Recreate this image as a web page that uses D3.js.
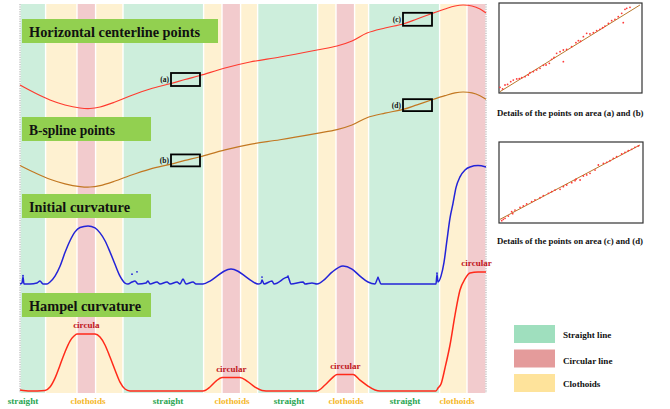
<!DOCTYPE html>
<html><head><meta charset="utf-8">
<script src="https://cdn.jsdelivr.net/npm/d3@7"></script>
<style>
body{margin:0;background:#fff}
svg{display:block}
text{font-family:"Liberation Serif","Times New Roman",serif;font-weight:bold}
</style>
</head><body>
<svg id="chart" width="670" height="409"></svg>
<script>
// ---- Road alignment segments (chainage, m) ----
const segmentBreaks = [0,128,285,378,515,918,1010,1103,1188,1488,1580,1673,1743,2098,2235,2330];
const segmentTypes = ["straight","clothoid","circular","clothoid","straight","clothoid","circular","clothoid",
                      "straight","clothoid","circular","clothoid","straight","clothoid","circular"];
const segmentLabels = ["straight","clothoids","straight","clothoids","straight","clothoids","straight","clothoids"];
const segmentLabelStations = [15,340,740,1060,1345,1630,1925,2185];
const circularLabels = ["circula","circular","circular","circular"];

// ---- Horizontal centerline (chainage, northing m) ----
const centerStation  = [0,75,150,225,300,350,400,475,550,650,755,825,900,1025,1150,1300,1485,1585,1660,1735,1825,1915,1985,2060,2125,2175,2215,2260,2300,2330];
const centerNorthing = [125,85,50,25,10,7.5,15,40,70,105,132.5,152.5,172.5,210,240,265,300,320,345,385,410,430,455,482.5,505,520,525,520,505,485];

// ---- Initial curvature (1e-3 / m) ----
const initStation = [0,10,15,20,50,85,100,115,135,150,175,200,225,250,275,300,340,375,400,425,450,475,500,525,540,
  560,575,590,630,640,650,685,700,735,750,785,800,815,830,865,880,915,950,985,1020,1055,1090,1125,1160,1190,
  1205,1210,1220,1260,1270,1340,1355,1415,1425,1460,1485,1525,1560,1615,1660,1700,1740,1775,1790,1805,2080,
  2085,2090,2105,2120,2135,2150,2165,2180,2200,2225,2250,2290,2330];
const initCurv = [0,0.05,0.35,0,0,0.05,0.15,0,0,0.1,0.4,0.9,1.6,2.2,2.65,2.87,2.95,2.85,2.6,2.2,1.63,1.0,0.4,0.05,0,
  0.1,0.15,0,0.05,0.15,0,0.1,0,0.1,0,0.1,0,0.25,0,0.1,0,0,0.15,0.4,0.65,0.76,0.65,0.4,0.15,0,
  0.05,0.2,0,0.15,0,0.35,0,0.1,0,0.05,0,0.25,0.6,0.92,0.76,0.4,0.1,0,0.3,0,0,
  0.5,0.1,0.4,1.1,2.24,3.35,4.1,4.9,5.45,5.8,5.95,6.02,5.95];
const outlierStation = [15,560,585,1210,1340,1790,2085];
const outlierCurv    = [0.42,0.5,0.62,0.35,0.4,0.33,0.55];

// ---- Hampel-filtered curvature (1e-3 / m) ----
const hampelStation = [0,50,125,150,175,200,225,250,270,285,330,375,400,425,450,475,500,525,550,
  915,950,980,1010,1100,1135,1175,1210,1250,1485,1525,1560,1585,1665,1700,1740,1775,1800,
  2080,2090,2105,2125,2150,2175,2200,2225,2250,2290,2330];
const hampelCurv = [0.05,0,0.03,0.2,0.65,1.3,1.97,2.52,2.77,2.87,2.87,2.87,2.72,2.32,1.71,1.06,0.45,0.1,0,
  0,0.2,0.5,0.68,0.68,0.5,0.2,0.03,0,0,0.3,0.65,0.83,0.83,0.55,0.25,0.05,0,
  0,0.15,0.35,1.16,2.32,3.83,5.09,5.65,5.95,6.0,6.0];

// ---- Zoomed areas on the alignment ----
const zoomLabels   = [["(a)","(b)"],["(c)","(d)"]];
const zoomStations = [[755,900],[1915,2060]];
const zoomNorthing = [[120,185],[421,486]];

// ---- Point detail within zoomed areas (local units 0-100) ----
const detailABx = [0.7,4.2,8.2,10,12.4,14.2,15.9,18.2,20.5,21.7,24,26.3,28.7,31,32.9,35.2,36.8,40.3,42.7,45,47.3,50.8,53.8,55.5,59,61.3,63.6,66,68.3,70.6,74.1,76.5,78.8,81.1,83.4,85.8,88.1,89.3,91.6,86.9,45,2.5,6,38.5,57,72.5];
const detailABy = [6.3,8.9,12.6,14.4,15.6,15.9,17,18.1,20,22.6,23.7,25.6,27.4,30.7,31.1,33,37.4,44.1,45.9,47.8,48.5,51.5,55.9,58.1,62.6,66.3,65.6,67,69.3,70.7,74.4,77.4,80.4,81.9,84.8,88.5,93,94.1,95.2,78.1,34.8,4.5,9.5,39.5,57.5,72.5];
const fitAB = [[0.7,1.5],[98.6,97.8]];
const detailCDx = [1.9,4.2,6.5,8.8,11.1,14.6,16.9,19.2,22.7,25,28.5,30.8,34.3,36.6,38.9,42.4,44.7,47,50.5,52.8,56.3,58.6,60.9,63.2,66.7,69,72.5,74.8,77.1,79.4,81.7,85.2,87.5,89.8,92.1,94.4,96.8,3,9.5,53.5];
const detailCDy = [2.9,5.8,8.6,14,16,19.3,21,23.5,26.3,28.4,31.3,33.7,36.6,38.7,40.7,41.6,44.9,46.9,49.8,52.3,53.1,58,59.3,61.3,65.4,71.6,73.7,74.9,77,79.8,81.9,85.2,87.2,89.3,90.9,93.4,95.1,4.5,11.5,54];
const fitCD = [[0.7,4.5],[97.9,96.3]];
const detailCaptions = ["Details of the points on area (a) and (b)","Details of the points on area (c) and (d)"];

// ---- Legend ----
const legendLabels = ["Straight line","Circular line","Clothoids"];
const legendTypes  = ["straight","circular","clothoid"];

const panelTitles = ["Horizontal centerline points","B-spline points","Initial curvature","Hampel curvature"];

// ---- Styling ----
const bandFill  = {straight:"#cdeedc", circular:"#f2cbcd", clothoid:"#fef1d1"};
const solidFill = {straight:"#9fdfbe", circular:"#e49b9b", clothoid:"#fee39b"};
const labelFill = {straight:"#2aa653", clothoids:"#f5b82a"};

const svg = d3.select("#chart");

// Scales
const x = d3.scaleLinear().domain([0,2330]).range([20,486]);
const yCenter = d3.scaleLinear().domain([0,525]).range([110,5]);
const ySpline = d3.scaleLinear().domain([0,525]).range([188.4,92]);
const yInit   = d3.scaleLinear().domain([0,6]).range([284,166]);
const yHampel = d3.scaleLinear().domain([0,6]).range([391,272]);
const plotTop = 4, plotBottom = 393;

// Background segment bands
const bands = segmentTypes.map((t,i)=>({type:t, s0:segmentBreaks[i], s1:segmentBreaks[i+1]}));
svg.append("g").selectAll("rect").data(bands).join("rect")
  .attr("x", d=>x(d.s0)+0.7)
  .attr("width", d=>Math.max(0, x(d.s1)-x(d.s0)-1.4))
  .attr("y", plotTop).attr("height", plotBottom-plotTop)
  .attr("fill", d=>bandFill[d.type]);

// dotted frame edges
svg.append("g").selectAll("line").data([0,2330]).join("line")
  .attr("x1", d=>x(d)).attr("x2", d=>x(d))
  .attr("y1", plotTop).attr("y2", plotBottom)
  .attr("stroke","#a8a8a8").attr("stroke-width",1).attr("stroke-dasharray","1.2,1.2");

// Title boxes
const titleBoxes = [{x:22,y:19,w:196,tw:171},{x:22,y:117,w:129,tw:86},{x:22,y:194,w:129,tw:101},{x:22,y:293,w:129,tw:112}];
const tg = svg.append("g").selectAll("g").data(panelTitles).join("g");
tg.append("rect").attr("x",(d,i)=>titleBoxes[i].x).attr("y",(d,i)=>titleBoxes[i].y)
  .attr("width",(d,i)=>titleBoxes[i].w).attr("height",24).attr("fill","#92d050");
tg.append("text").attr("x",(d,i)=>titleBoxes[i].x+7).attr("y",(d,i)=>titleBoxes[i].y+17.7)
  .attr("font-size",14.3).attr("fill","#111")
  .attr("textLength",(d,i)=>titleBoxes[i].tw).attr("lengthAdjust","spacingAndGlyphs")
  .text(d=>d);

// Alignment curves
const centerPts = centerStation.map((s,i)=>[s,centerNorthing[i]]);
const lineCenter = d3.line().x(d=>x(d[0])).y(d=>yCenter(d[1])).curve(d3.curveCatmullRom);
const lineSpline = d3.line().x(d=>x(d[0])).y(d=>ySpline(d[1])).curve(d3.curveCatmullRom);
svg.append("path").datum(centerPts).attr("d",lineCenter).attr("fill","none")
  .attr("stroke","#ff3b2f").attr("stroke-width",1.2);
svg.append("path").datum(centerPts).attr("d",lineSpline).attr("fill","none")
  .attr("stroke","#c27721").attr("stroke-width",1.2);

// Zoom boxes with labels
zoomStations.forEach((st,i)=>{
  const nz = zoomNorthing[i];
  [yCenter,ySpline].forEach((ys,k)=>{
    const x0 = x(st[0]), x1 = x(st[1]);
    const y0 = ys(nz[1]), y1 = ys(nz[0]);
    svg.append("rect").attr("x",x0).attr("y",y0).attr("width",x1-x0).attr("height",y1-y0)
      .attr("fill","none").attr("stroke","#000").attr("stroke-width",1.8);
    svg.append("text").attr("x",x0-2).attr("y",(y0+y1)/2+2.5).attr("text-anchor","end")
      .attr("font-size",7.5).attr("fill","#111").text(zoomLabels[i][k]);
  });
});

// Curvature curves
const initPts = initStation.map((s,i)=>[s,initCurv[i]]);
const hampelPts = hampelStation.map((s,i)=>[s,hampelCurv[i]]);
svg.append("path").datum(initPts)
  .attr("d", d3.line().x(d=>x(d[0])).y(d=>yInit(d[1])).curve(d3.curveMonotoneX))
  .attr("fill","none").attr("stroke","#2323d8").attr("stroke-width",1.5);
svg.append("g").selectAll("circle").data(outlierStation).join("circle")
  .attr("cx",d=>x(d)).attr("cy",(d,i)=>yInit(outlierCurv[i])).attr("r",0.9).attr("fill","#2323d8");
svg.append("path").datum(hampelPts)
  .attr("d", d3.line().x(d=>x(d[0])).y(d=>yHampel(d[1])).curve(d3.curveMonotoneX))
  .attr("fill","none").attr("stroke","#ff2a1a").attr("stroke-width",1.5);

// "circular" labels above Hampel plateaus
const circBands = bands.filter(b=>b.type==="circular");
svg.append("g").selectAll("text").data(circBands).join("text")
  .attr("x", d=>x((d.s0+d.s1)/2))
  .attr("y", d=>{
    const m = d3.max(hampelPts.filter(p=>p[0]>=d.s0-10 && p[0]<=d.s1+10), p=>p[1]);
    return yHampel(m)-6;
  })
  .attr("text-anchor","middle").attr("font-size",9).attr("fill","#c0141c")
  .text((d,i)=>circularLabels[i]);

// Segment labels below
svg.append("g").selectAll("text").data(segmentLabels).join("text")
  .attr("x",(d,i)=>x(segmentLabelStations[i])).attr("y",404)
  .attr("text-anchor","middle").attr("font-size",9.2)
  .attr("fill",d=>labelFill[d]).text(d=>d);

// Detail panels
function detailPanel(xs, ys, px, py, fit, caption, capY){
  const dx = d3.scaleLinear().domain([0,100]).range(px);
  const dy = d3.scaleLinear().domain([0,100]).range(py);
  const g = svg.append("g");
  g.append("rect").attr("x",px[0]).attr("y",py[1]).attr("width",px[1]-px[0]).attr("height",py[0]-py[1])
    .attr("fill","#fff").attr("stroke","#333").attr("stroke-width",1.2);
  g.append("line").attr("x1",dx(fit[0][0])).attr("y1",dy(fit[0][1]))
    .attr("x2",dx(fit[1][0])).attr("y2",dy(fit[1][1]))
    .attr("stroke","#b9782c").attr("stroke-width",1);
  g.selectAll("circle").data(xs).join("circle")
    .attr("cx",d=>dx(d)).attr("cy",(d,i)=>dy(ys[i])).attr("r",0.9).attr("fill","#ff3a3a");
  svg.append("text").attr("x",497).attr("y",capY).attr("font-size",8.8).attr("fill","#111").text(caption);
}
detailPanel(detailABx, detailABy, [499,642], [93,3], fitAB, detailCaptions[0], 116);
detailPanel(detailCDx, detailCDy, [499,643], [223,142], fitCD, detailCaptions[1], 244);

// Legend
const lg = svg.append("g").selectAll("g").data(legendLabels).join("g")
  .attr("transform",(d,i)=>`translate(514,${325+i*24.5})`);
lg.append("rect").attr("width",41).attr("height",18).attr("fill",(d,i)=>solidFill[legendTypes[i]]);
lg.append("text").attr("x",49).attr("y",(d,i)=>[13,14,13][i]).attr("font-size",9.1).attr("fill","#111").text(d=>d);
</script>
</body></html>
